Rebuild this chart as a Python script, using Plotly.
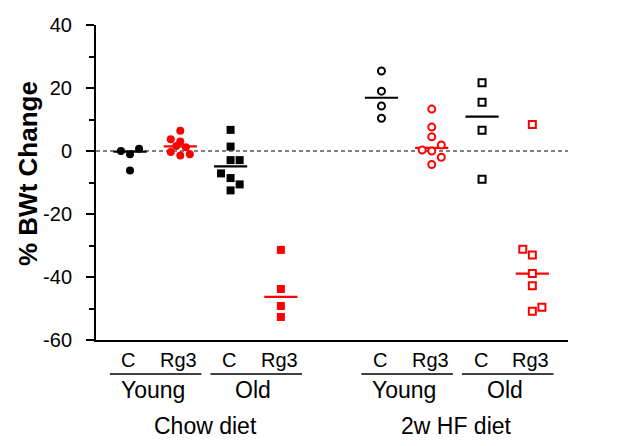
import plotly.graph_objects as go

# ---------------- data ----------------
diets = ["Chow diet", "2w HF diet"]
ages = ["Young", "Old"]
treatments = ["C", "Rg3"]

chow_young_c = [0.0, -1.0, 0.7, -6.2]
chow_young_rg3 = [6.4, 3.7, 3.0, 1.6, 1.2, -0.3, -1.4, -1.0]
chow_old_c = [6.7, 1.4, -2.9, -2.9, -7.1, -8.6, -10.6, -12.5]
chow_old_rg3 = [-31.4, -43.8, -49.2, -52.7]
hf_young_c = [25.4, 19.0, 14.3, 10.4]
hf_young_rg3 = [13.3, 7.6, 4.5, 1.9, 0.3, 0.0, -2.0, -4.3]
hf_old_c = [21.7, 15.5, 6.6, -9.0]
hf_old_rg3 = [8.4, -31.2, -33.0, -38.9, -42.8, -49.6, -50.9]

# horizontal mean bars shown for each group
group_means = [-0.2, 1.5, -4.9, -46.3, 16.9, 1.0, 10.9, -38.9]

# horizontal scatter offsets (category units) used in the dot plot
chow_young_c_jit = [-0.18, 0, 0.18, 0]
chow_young_rg3_jit = [0, -0.19, 0, -0.08, 0.11, -0.19, 0, 0.19]
chow_old_c_jit = [0, 0, 0, 0.18, -0.19, 0, 0.18, 0]
chow_old_rg3_jit = [0, 0, 0, 0]
hf_young_c_jit = [0, 0, 0, 0]
hf_young_rg3_jit = [0, 0, 0, 0.19, -0.19, 0, 0.19, 0]
hf_old_c_jit = [0, 0, 0, 0]
hf_old_rg3_jit = [0, -0.19, 0, 0, 0, 0.19, 0]

y_ticks = [-60, -40, -20, 0, 20, 40]
y_tick_labels = ["-60", "-40", "-20", "0", "20", "40"]

groups = [
    (chow_young_c, chow_young_c_jit),
    (chow_young_rg3, chow_young_rg3_jit),
    (chow_old_c, chow_old_c_jit),
    (chow_old_rg3, chow_old_rg3_jit),
    (hf_young_c, hf_young_c_jit),
    (hf_young_rg3, hf_young_rg3_jit),
    (hf_old_c, hf_old_c_jit),
    (hf_old_rg3, hf_old_rg3_jit),
]

# ---------------- figure ----------------
FONT = "Liberation Sans, Arial, sans-serif"
RED = "#ff0000"
BLACK = "#000000"

fig = go.Figure()

# category positions: diets separated by a gap
positions = []
for d in range(len(diets)):
    for a in range(len(ages)):
        for t in range(len(treatments)):
            positions.append(1 + d * 5 + a * 2 + t)

half = 0.33
# mean bars
for i, (vals, jit) in enumerate(groups):
    t = i % 2
    col = BLACK if t == 0 else RED
    xc = positions[i]
    fig.add_trace(go.Scatter(
        x=[xc - half, xc + half], y=[group_means[i]] * 2,
        mode="lines", line=dict(color=col, width=2.2),
        showlegend=False, hoverinfo="skip"))

# points
for i, (vals, jit) in enumerate(groups):
    t = i % 2
    a = (i // 2) % 2
    d = i // 4
    col = BLACK if t == 0 else RED
    sym = "circle" if a == 0 else "square"
    xc = positions[i]
    xs = [xc + j for j in jit]
    if d == 0:
        marker = dict(symbol=sym, size=8, color=col, line=dict(width=0))
    else:
        marker = dict(symbol=sym, size=7, color="white", line=dict(color=col, width=2))
    fig.add_trace(go.Scatter(x=xs, y=vals, mode="markers", marker=marker,
                             showlegend=False, hoverinfo="skip"))

# zero reference line
fig.add_shape(type="line", xref="paper", yref="y", x0=0, x1=1, y0=0, y1=0,
              line=dict(color=BLACK, width=1, dash="4px,3px"), layer="below")

# page body has an 8px offset; plot area occupies px rows 25..340 in the window
OFF = 8
PLOT_BOTTOM = 340
PLOT_H = 315


def py(ypx):
    return (PLOT_BOTTOM - ypx) / PLOT_H


annotations = []
# treatment labels
for i, xc in enumerate(positions):
    annotations.append(dict(x=xc - 0.03, y=py(360), xref="x", yref="paper",
                            text=treatments[i % 2], showarrow=False,
                            xanchor="center", yanchor="middle",
                            font=dict(family=FONT, size=20, color=BLACK)))
# age labels + underline
for d in range(len(diets)):
    for a in range(len(ages)):
        x0 = positions[d * 4 + a * 2]
        x1 = positions[d * 4 + a * 2 + 1]
        annotations.append(dict(x=(x0 + x1) / 2 - 0.05, y=py(390), xref="x", yref="paper",
                                text=ages[a], showarrow=False,
                                xanchor="center", yanchor="middle",
                                font=dict(family=FONT, size=23, color=BLACK)))
        fig.add_shape(type="line", xref="x", yref="paper",
                      x0=x0 - 0.4, x1=x1 + 0.42, y0=py(374), y1=py(374),
                      line=dict(color=BLACK, width=1.3))
    annotations.append(dict(x=(positions[d * 4] + positions[d * 4 + 3]) / 2,
                            y=py(426), xref="x", yref="paper",
                            text=diets[d], showarrow=False,
                            xanchor="center", yanchor="middle",
                            font=dict(family=FONT, size=23, color=BLACK)))
# y-axis title
annotations.append(dict(x=-0.144, y=py(174), xref="paper", yref="paper",
                        text="<b>% BWt Change</b>", textangle=-90, showarrow=False,
                        xanchor="center", yanchor="middle",
                        font=dict(family=FONT, size=26, color=BLACK)))

fig.update_layout(
    width=623, height=446,
    margin=dict(l=96 - OFF, r=623 - 568 + OFF, t=25 - OFF, b=446 - 340 + OFF,
                autoexpand=False),
    plot_bgcolor="white", paper_bgcolor="white",
    annotations=annotations,
    showlegend=False,
    xaxis=dict(range=[0.324, 9.709], showline=True, linecolor=BLACK, linewidth=2,
               showticklabels=False, ticks="", showgrid=False, zeroline=False,
               fixedrange=True, automargin=False),
    yaxis=dict(range=[-60, 40], tickvals=y_ticks, ticktext=y_tick_labels,
               ticks="outside", ticklen=8, automargin=False,
               tickwidth=2, tickcolor=BLACK, showline=True, linecolor=BLACK,
               linewidth=2, showgrid=False, zeroline=False,
               ticklabelstandoff=10,
               tickfont=dict(family=FONT, size=20, color=BLACK),
               minor=dict(ticks="outside", ticklen=5, tickwidth=2, tickcolor=BLACK,
                          dtick=10, showgrid=False)),
)

fig.write_html("out.html")
